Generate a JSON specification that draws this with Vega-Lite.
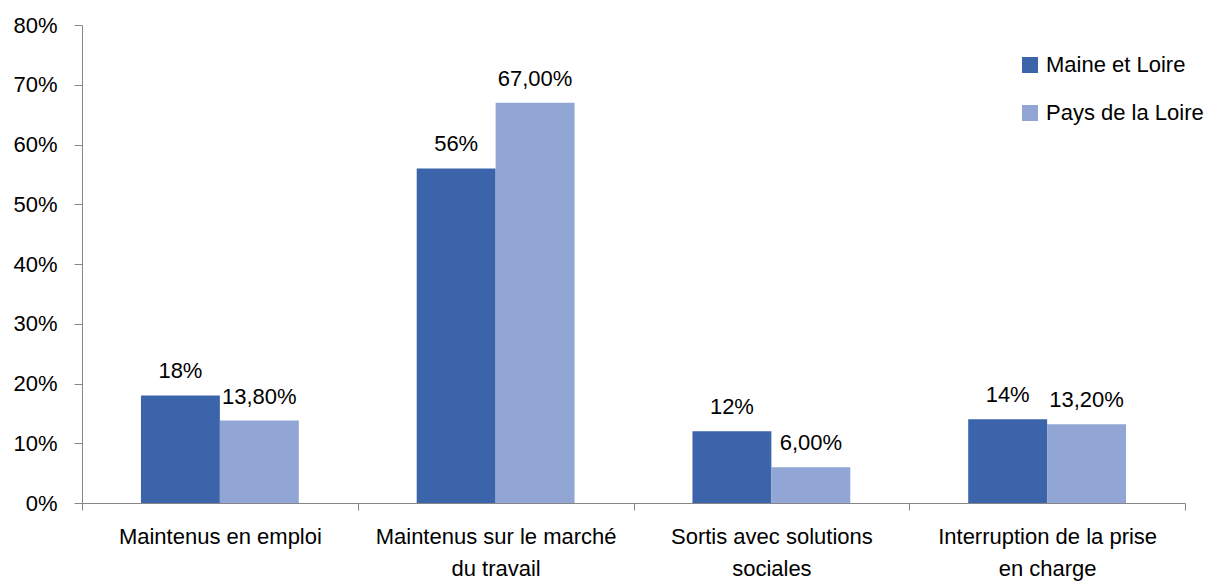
{
  "$schema": "https://vega.github.io/schema/vega-lite/v6.json",
  "autosize": {"type": "none"},
  "padding": {"left": 82, "top": 25, "right": 27, "bottom": 78},
  "width": 1103,
  "height": 478,
  "background": "white",
  "config": {
    "font": "Liberation Sans",
    "view": {"stroke": null},
    "axis": {"domainColor": "#868686", "tickColor": "#868686", "labelColor": "#000000", "labelFont": "Liberation Sans", "labelFontSize": 22, "grid": false, "titleFontSize": 0}
  },
  "data": {
    "values": [
      {"cat": "Maintenus en emploi", "serie": "Maine et Loire", "v": 0.18, "label": "18%"},
      {"cat": "Maintenus en emploi", "serie": "Pays de la Loire", "v": 0.138, "label": "13,80%"},
      {"cat": "Maintenus sur le marché du travail", "serie": "Maine et Loire", "v": 0.56, "label": "56%"},
      {"cat": "Maintenus sur le marché du travail", "serie": "Pays de la Loire", "v": 0.67, "label": "67,00%"},
      {"cat": "Sortis avec solutions sociales", "serie": "Maine et Loire", "v": 0.12, "label": "12%"},
      {"cat": "Sortis avec solutions sociales", "serie": "Pays de la Loire", "v": 0.06, "label": "6,00%"},
      {"cat": "Interruption de la prise en charge", "serie": "Maine et Loire", "v": 0.14, "label": "14%"},
      {"cat": "Interruption de la prise en charge", "serie": "Pays de la Loire", "v": 0.132, "label": "13,20%"}
    ]
  },
  "encoding": {
    "x": {
      "field": "cat", "type": "nominal", "sort": null,
      "scale": {"paddingInner": 0, "paddingOuter": 0},
      "axis": {
        "title": null, "labelAngle": 0, "tickBand": "extent", "tickSize": 7, "labelPadding": 16,
        "labelBaseline": "top", "labelLineHeight": 32, "labelLimit": 0,
        "labelExpr": "datum.label == 'Maintenus sur le marché du travail' ? ['Maintenus sur le marché', 'du travail'] : datum.label == 'Sortis avec solutions sociales' ? ['Sortis avec solutions', 'sociales'] : datum.label == 'Interruption de la prise en charge' ? ['Interruption de la prise', 'en charge'] : datum.label"
      }
    },
    "xOffset": {"field": "serie", "type": "nominal", "sort": null, "scale": {"paddingInner": 0, "paddingOuter": 0.747}},
    "y": {
      "field": "v", "type": "quantitative",
      "scale": {"domain": [0, 0.8], "nice": false},
      "axis": {"title": null, "format": ".0%", "values": [0, 0.1, 0.2, 0.3, 0.4, 0.5, 0.6, 0.7, 0.8], "tickSize": 8, "labelPadding": 17}
    }
  },
  "layer": [
    {
      "mark": {"type": "bar"},
      "encoding": {
        "color": {
          "field": "serie", "type": "nominal", "sort": null,
          "scale": {"domain": ["Maine et Loire", "Pays de la Loire"], "range": ["#3C64AB", "#91A6D5"]},
          "legend": {
            "title": null, "orient": "none", "legendX": 937, "legendY": 29,
            "symbolType": "square", "symbolSize": 256, "symbolStrokeWidth": 0,
            "labelFontSize": 22, "labelFont": "Liberation Sans", "labelColor": "#000000", "labelOffset": 5, "rowPadding": 26
          }
        }
      }
    },
    {
      "mark": {"type": "text", "baseline": "alphabetic", "dy": -17, "fontSize": 22, "font": "Liberation Sans", "color": "#000000"},
      "encoding": {"text": {"field": "label"}}
    }
  ]
}
